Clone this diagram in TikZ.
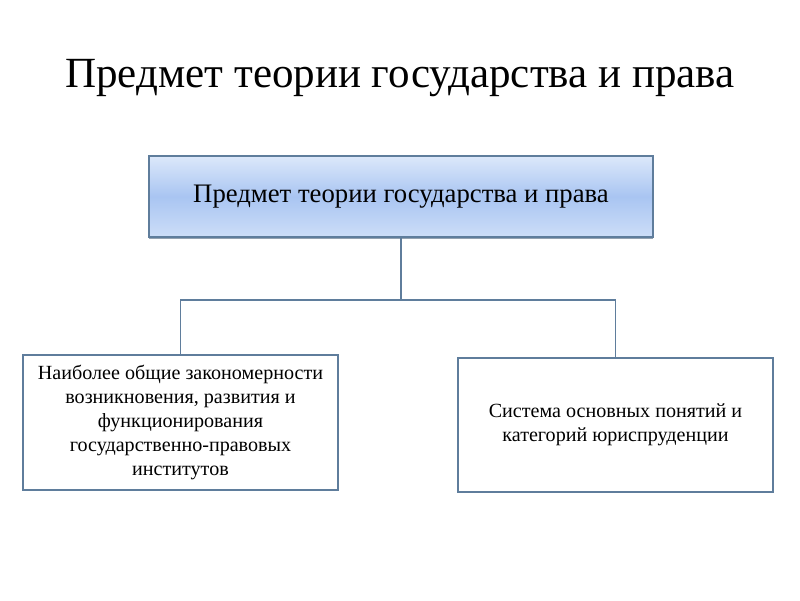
\documentclass[tikz,border=0pt]{standalone}
\usepackage{fontspec}
\setmainfont{Liberation Serif}
\usetikzlibrary{shadows}
\definecolor{frame}{HTML}{5F7D9C}
\definecolor{topsky}{HTML}{DCE8FA}
\definecolor{midsky}{HTML}{A9C5F2}
\begin{document}
\begin{tikzpicture}[
	box/.style={draw=frame, line width=1.4pt, fill=white, align=center, inner sep=0pt},
	small/.style={font=\fontsize{14.3}{17}\selectfont},
	link/.style={draw=frame, line width=1.4pt}]
	\useasboundingbox (0,0) rectangle (20,15);
	\node[font=\fontsize{30.6}{36}\selectfont] (title) at (10,13.05) {Предмет теории государства и права};
	\node[box, minimum width=12.6cm, minimum height=2.025cm, top color=topsky, bottom color=topsky!70!midsky, middle color=midsky,
		drop shadow={shadow xshift=0pt, shadow yshift=-1.2pt, fill=frame!80!black, opacity=.6},
		font=\fontsize{19}{23}\selectfont] (top) at (10.025,10.0875)
		{Предмет теории государства и права};
	\node[box, small, minimum width=7.875cm, minimum height=3.375cm] (left) at (4.5125,4.4375)
		{Наиболее общие закономерности\\ возникновения, развития и\\ функционирования\\ государственно-правовых\\ институтов};
	\node[box, small, minimum width=7.875cm, minimum height=3.35cm] (right) at (15.3875,4.375)
		{Система основных понятий и\\ категорий юриспруденции};
	\coordinate (fork) at (10.025,7.5);
	\draw[link] (top.south) -- (fork) -| (left.north);
	\draw[link] (fork) -| (right.north);
\end{tikzpicture}
\end{document}
